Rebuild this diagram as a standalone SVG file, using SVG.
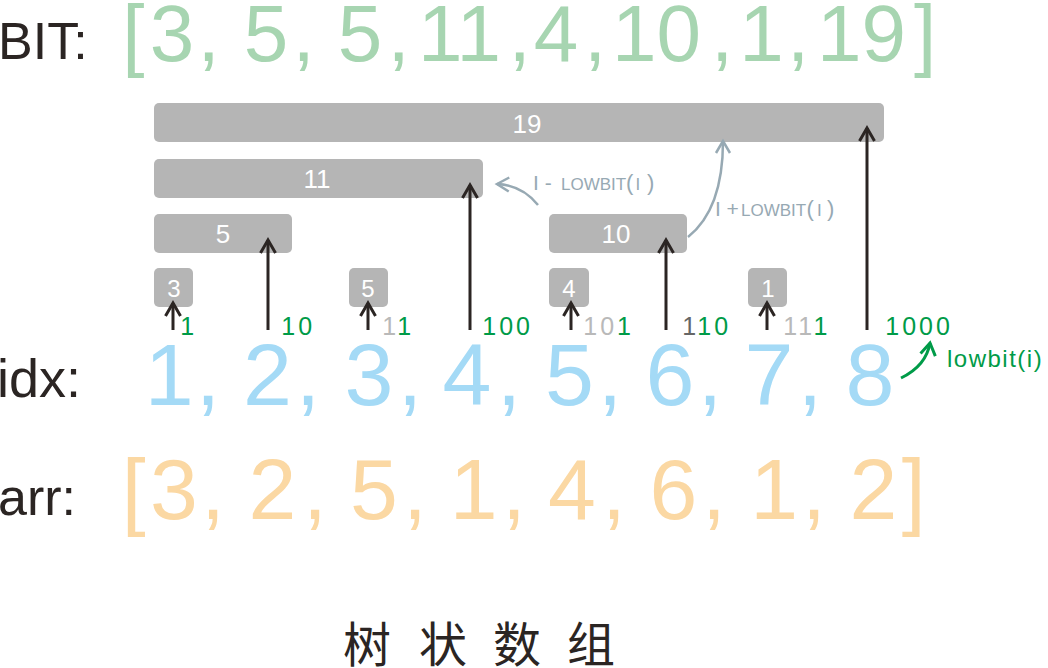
<svg xmlns="http://www.w3.org/2000/svg" width="1048" height="668" viewBox="0 0 1048 668">
<style>
  .lbl { font-family: "Liberation Sans", Arial, sans-serif; fill: #2b2523; }
  .big { font-family: "Liberation Sans", Arial, sans-serif; text-anchor: middle; }
  .bit { fill: #a7d5b1; font-size: 80px; }
  .idx { fill: #a4daf6; font-size: 88px; }
  .arr { fill: #fbd8a3; font-size: 86px; }
  .bar { fill: #b5b5b5; }
  .bt { font-family: "Liberation Sans", Arial, sans-serif; fill: #ffffff; text-anchor: middle; font-size: 26px; }
  .bts { font-size: 24px; }
  .bin { font-family: "Liberation Sans", Arial, sans-serif; font-size: 25px; letter-spacing: 3px; fill: #009b48; }
  .g { fill: #b9b9b9; }
  .dg { fill: #666666; }
  .ar { fill: none; stroke: #2b2523; stroke-width: 3; }
  .op { font-family: "Liberation Sans", Arial, sans-serif; fill: #97a9b3; }
  .cn { font-family: "Noto Sans CJK SC", sans-serif; font-size: 48px; fill: #2b2523; text-anchor: middle; }
</style>
<defs>
  <marker id="mk" markerUnits="userSpaceOnUse" orient="auto" refX="0" refY="0" overflow="visible">
    <path d="M-13,-7.5 L0,0 L-13,7.5" fill="none" stroke="#2b2523" stroke-width="3"/>
  </marker>
  <marker id="mkb" markerUnits="userSpaceOnUse" orient="auto" refX="0" refY="0" overflow="visible">
    <path d="M-12,-7 L0,0 L-12,7" fill="none" stroke="#97a9b3" stroke-width="2.5"/>
  </marker>
  <marker id="mkg" markerUnits="userSpaceOnUse" orient="auto" refX="0" refY="0" overflow="visible">
    <path d="M-12,-7.5 L0,0 L-12,7.5" fill="none" stroke="#009b48" stroke-width="3"/>
  </marker>
</defs>

<!-- labels -->
<text class="lbl" x="-2" y="59" font-size="52">BIT:</text>
<text class="lbl" x="-3" y="397" font-size="54">idx:</text>
<text class="lbl" x="-2" y="515" font-size="52">arr:</text>

<!-- BIT array -->
<g id="bit-array" class="big bit">
  <text x="133.3" y="61">[</text>
  <text x="172" y="61">3</text>
  <text x="208.5" y="61">,</text>
  <text x="266" y="61">5</text>
  <text x="303.5" y="61">,</text>
  <text x="360" y="61">5</text>
  <text x="398.5" y="61">,</text>
  <text x="459.5" y="61">11</text>
  <text x="519.5" y="61">,</text>
  <text x="556" y="61">4</text>
  <text x="595" y="61">,</text>
  <text x="656.6" y="61">10</text>
  <text x="722" y="61">,</text>
  <text x="761.5" y="61">1</text>
  <text x="798" y="61">,</text>
  <text x="861.6" y="61">19</text>
  <text x="925.2" y="61">]</text>
</g>

<!-- idx row -->
<g id="idx-row" class="big idx">
  <text x="169.3" y="405">1</text>
  <text x="208" y="405">,</text>
  <text x="267.5" y="405">2</text>
  <text x="308" y="405">,</text>
  <text x="369" y="405">3</text>
  <text x="410" y="405">,</text>
  <text x="467" y="405">4</text>
  <text x="509" y="405">,</text>
  <text x="569.5" y="405">5</text>
  <text x="610" y="405">,</text>
  <text x="670" y="405">6</text>
  <text x="710" y="405">,</text>
  <text x="769" y="405">7</text>
  <text x="810" y="405">,</text>
  <text x="870" y="405">8</text>
</g>

<!-- arr row -->
<g id="arr-row" class="big arr">
  <text x="133.7" y="519">[</text>
  <text x="174" y="519">3</text>
  <text x="213" y="519">,</text>
  <text x="272.5" y="519">2</text>
  <text x="315" y="519">,</text>
  <text x="374" y="519">5</text>
  <text x="415" y="519">,</text>
  <text x="473.7" y="519">1</text>
  <text x="514" y="519">,</text>
  <text x="572" y="519">4</text>
  <text x="614" y="519">,</text>
  <text x="673.5" y="519">6</text>
  <text x="714" y="519">,</text>
  <text x="774.2" y="519">1</text>
  <text x="814" y="519">,</text>
  <text x="873.5" y="519">2</text>
  <text x="913.8" y="519">]</text>
</g>

<!-- tree nodes -->
<g id="node-19"><rect class="bar" x="154" y="103" width="730" height="39" rx="5"/><text class="bt" x="527" y="133">19</text></g>
<g id="node-11"><rect class="bar" x="154" y="159" width="329" height="39" rx="5"/><text class="bt" x="317" y="188">11</text></g>
<g id="node-5a"><rect class="bar" x="154" y="214" width="138" height="39" rx="5"/><text class="bt" x="223" y="243">5</text></g>
<g id="node-10"><rect class="bar" x="549" y="214" width="138" height="39" rx="5"/><text class="bt" x="616" y="243">10</text></g>
<g id="node-3"><rect class="bar" x="154" y="268" width="39" height="39" rx="5"/><text class="bt bts" x="174" y="297">3</text></g>
<g id="node-5b"><rect class="bar" x="349" y="268" width="39" height="39" rx="5"/><text class="bt bts" x="368" y="297">5</text></g>
<g id="node-4"><rect class="bar" x="549" y="268" width="40" height="39" rx="5"/><text class="bt bts" x="569" y="297">4</text></g>
<g id="node-1"><rect class="bar" x="748" y="268" width="39" height="39" rx="5"/><text class="bt bts" x="768" y="297">1</text></g>

<!-- connectors -->
<g id="connectors">
  <line class="ar" x1="173" y1="330" x2="173" y2="303" marker-end="url(#mk)"/>
  <line class="ar" x1="268" y1="330" x2="268" y2="240" marker-end="url(#mk)"/>
  <line class="ar" x1="368" y1="330" x2="368" y2="303" marker-end="url(#mk)"/>
  <line class="ar" x1="470" y1="330" x2="470" y2="185" marker-end="url(#mk)"/>
  <line class="ar" x1="571" y1="330" x2="571" y2="303" marker-end="url(#mk)"/>
  <line class="ar" x1="666" y1="330" x2="666" y2="240" marker-end="url(#mk)"/>
  <line class="ar" x1="767" y1="330" x2="767" y2="303" marker-end="url(#mk)"/>
  <line class="ar" x1="867" y1="330" x2="867" y2="128" marker-end="url(#mk)"/>
  <path d="M538,205 Q522,185 497,184" fill="none" stroke="#97a9b3" stroke-width="2.5" marker-end="url(#mkb)"/>
  <path d="M688,237 C712,218 723,186 723,141" fill="none" stroke="#97a9b3" stroke-width="2.5" marker-end="url(#mkb)"/>
  <path d="M901,378 Q926,366 930,343" fill="none" stroke="#009b48" stroke-width="3" marker-end="url(#mkg)"/>
</g>

<!-- binary labels -->
<g id="binary-labels">
  <text class="bin" x="180.3" y="335">1</text>
  <text class="bin" x="281.3" y="335">10</text>
  <text class="bin" x="382.3" y="335"><tspan class="g">1</tspan>1</text>
  <text class="bin" x="482.3" y="335">100</text>
  <text class="bin" x="583.3" y="335"><tspan class="g">10</tspan>1</text>
  <text class="bin" x="682.3" y="335"><tspan class="dg">1</tspan>10</text>
  <text class="bin" x="783.3" y="335"><tspan class="g">11</tspan>1</text>
  <text class="bin" x="885.3" y="335">1000</text>
</g>
<text x="947" y="367" font-family="Liberation Sans, Arial, sans-serif" font-size="24" letter-spacing="1.5" fill="#009b48">lowbit(i)</text>

<!-- operation labels -->
<text class="op" y="190"><tspan x="533" font-size="21">I - </tspan><tspan x="561" font-size="17">LOWBIT</tspan><tspan x="626" font-size="22">(</tspan><tspan x="635.5" font-size="17">I</tspan><tspan x="647" font-size="22">)</tspan></text>
<text class="op" y="216"><tspan x="715" font-size="21">I</tspan><tspan x="726.5" font-size="21">+</tspan><tspan x="741" font-size="17">LOWBIT</tspan><tspan x="806.5" font-size="22">(</tspan><tspan x="817" font-size="17">I</tspan><tspan x="827" font-size="22">)</tspan></text>

<!-- caption -->
<g id="caption">
  <text class="cn" x="367" y="662">树</text>
  <text class="cn" x="443" y="662">状</text>
  <text class="cn" x="517" y="662">数</text>
  <text class="cn" x="591" y="662">组</text>
</g>
</svg>
